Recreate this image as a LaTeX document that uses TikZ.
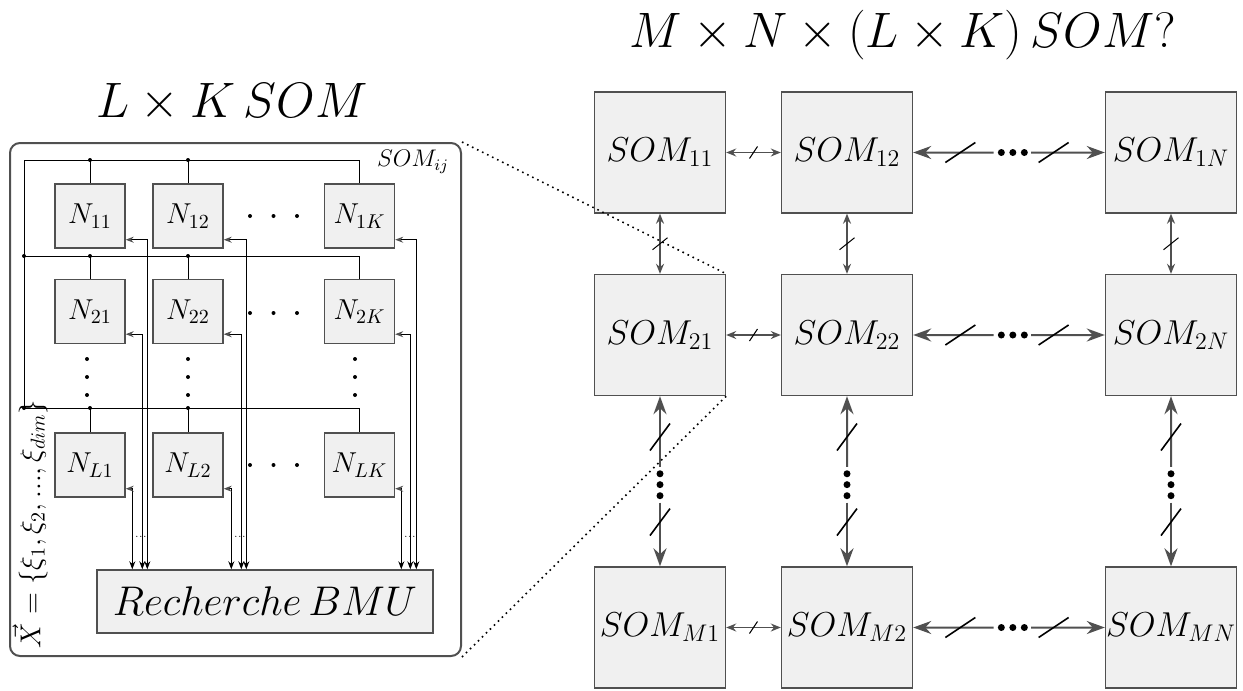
\documentclass[tikz,border=0pt]{standalone}
\usepackage{amsmath,amssymb}
\usepackage{tikz}
\usetikzlibrary{arrows.meta,positioning,calc}
\definecolor{cellfill}{HTML}{F0F0F0}
\definecolor{linegray}{HTML}{505050}

\begin{document}
\begin{tikzpicture}[>=latex,x=0.5pt,y=-0.5pt,
    neuron/.style={draw=linegray, fill=cellfill, line width=0.7pt, minimum width=35pt, minimum height=32pt, inner sep=0pt, font=\Large},
    somcell/.style={draw=linegray, fill=cellfill, line width=0.7pt, minimum width=65.5pt, minimum height=60.5pt, inner sep=0pt, font=\LARGE},
    wire/.style={line width=0.5pt},
    feed/.style={line width=0.5pt, {Stealth[length=4pt,width=3pt,color=linegray]}-{Stealth[length=4pt,width=3pt]}},
    thinlink/.style={linegray, line width=0.7pt, {Stealth[length=5pt,width=4pt]}-{Stealth[length=5pt,width=4pt]}},
    thickleft/.style={linegray, line width=1pt, {Stealth[length=9pt,width=6.5pt]}-},
    thickright/.style={linegray, line width=1pt, -{Stealth[length=9pt,width=6.5pt]}},
    slashmark/.style={black, line width=0.5pt},
    bigslash/.style={black, line width=0.8pt},
    bigtitle/.style={font=\fontsize{26.5}{32}\selectfont}]

    \useasboundingbox (0,0) rectangle (1243,691);

    \node[bigtitle] (lktitle) at (232,103) {$L\times K\,SOM$};
    \node[bigtitle] (mntitle) at (903,35) {$M\times N\times(L\times K)\,SOM?$};

    \node[draw=linegray, line width=1pt, rounded corners=5pt, minimum width=225.5pt, minimum height=256.5pt] (somij) at (235.5,399.5) {};
    \node[font=\large] (somijlabel) at (413,162) {$SOM_{ij}$};

    \node[neuron] (N11) at (90,216) {$N_{11}$};
    \node[neuron] (N12) at (188,216) {$N_{12}$};
    \node[neuron] (N1K) at (359.5,216) {$N_{1K}$};
    \node[neuron] (N21) at (90,311.5) {$N_{21}$};
    \node[neuron] (N22) at (188,311.5) {$N_{22}$};
    \node[neuron] (N2K) at (359.5,311.5) {$N_{2K}$};
    \node[neuron] (NL1) at (90,465) {$N_{L1}$};
    \node[neuron] (NL2) at (188,465) {$N_{L2}$};
    \node[neuron] (NLK) at (359.5,465) {$N_{LK}$};

    \node[draw=linegray, fill=cellfill, line width=0.7pt, minimum width=168pt, minimum height=31.5pt, font=\fontsize{21.5}{26}\selectfont] (bmu) at (265,601.5) {$Recherche\,BMU$};

    \node[rotate=90, font=\Large] (xin) at (30,524) {$\vec{X}=\{\xi_1,\xi_2,...,\xi_{dim}\}$};

    \coordinate (bus1) at (24,160);
    \coordinate (bus2) at (24,256);
    \coordinate (busL) at (24,408);
    \draw[wire] (bus1) -- (busL);
    \foreach \row in {1,2,L} {
        \draw[wire] (bus\row) -- (bus\row -| N\row K.north) -- (N\row K.north);
        \draw[wire] (bus\row -| N\row1.north) -- (N\row1.north);
        \draw[wire] (bus\row -| N\row2.north) -- (N\row2.north);
        \fill (bus\row -| N\row1.north) circle (2);
        \fill (bus\row -| N\row2.north) circle (2);
    }
    \fill (bus2) circle (2);
    \fill (busL) circle (2);

    \foreach \col/\a/\b/\d in {1/25.5/23/18, 2/75/72.5/67.5, K/160/157/152.5} {
        \draw[feed] ([yshift=4.5pt]N1\col.south east) -| ([xshift=\a pt]bmu.north west);
        \draw[feed] ([yshift=5pt]N2\col.south east) -| ([xshift=\b pt]bmu.north west);
        \draw[feed] ([yshift=4.5pt]NL\col.south east) -| node[pos=0.8, right, font=\tiny, inner sep=1pt]{...} ([xshift=\d pt]bmu.north west);
    }

    \foreach \x in {250,273.5,297} \foreach \y in {216,313,465} \fill (\x,\y) circle (2);
    \foreach \x in {87,188,355} \foreach \y in {359,377,395} \fill (\x,\y) circle (2);

    \foreach \c/\x in {1/660, 2/847, N/1171} \foreach \r/\y in {1/152.5, 2/335, M/627.5}
        \node[somcell] (SOM\r\c) at (\x,\y) {$SOM_{\r\c}$};

    \foreach \r in {1,2,M} {
        \draw[thinlink] (SOM\r1.east) -- (SOM\r2.west);
        \draw[slashmark] ($(SOM\r1.east)!0.5!(SOM\r2.west)$) +(-4,6) -- +(4,-6);
        \draw[thickleft] (SOM\r2.east) -- ($(SOM\r2.east)!0.42!(SOM\r N.west)$);
        \draw[thickright] ($(SOM\r2.east)!0.615!(SOM\r N.west)$) -- (SOM\r N.west);
        \foreach \f in {0.46,0.52,0.58} \fill ($(SOM\r2.east)!\f!(SOM\r N.west)$) circle (3.5);
        \draw[bigslash] ($(SOM\r2.east)!0.246!(SOM\r N.west)$) +(-15,10) -- +(15,-10);
        \draw[bigslash] ($(SOM\r2.east)!0.733!(SOM\r N.west)$) +(-15,10) -- +(15,-10);
    }

    \foreach \c in {1,2,N} {
        \draw[thinlink] (SOM1\c.south) -- (SOM2\c.north);
        \draw[slashmark] ($(SOM1\c.south)!0.5!(SOM2\c.north)$) +(-7.5,6) -- +(7.5,-6);
        \draw[thickleft] (SOM2\c.south) -- ($(SOM2\c.south)!0.415!(SOMM\c.north)$);
        \draw[thickright] ($(SOM2\c.south)!0.626!(SOMM\c.north)$) -- (SOMM\c.north);
        \foreach \f in {0.456,0.52,0.585} \fill ($(SOM2\c.south)!\f!(SOMM\c.north)$) circle (3.5);
        \draw[bigslash] ($(SOM2\c.south)!0.24!(SOMM\c.north)$) +(-10,13.5) -- +(10,-13.5);
        \draw[bigslash] ($(SOM2\c.south)!0.74!(SOMM\c.north)$) +(-10,13.5) -- +(10,-13.5);
    }

    \draw[dotted, line width=0.8pt] (somij.north east) -- (SOM21.north east);
    \draw[dotted, line width=0.8pt] (somij.south east) -- (SOM21.south east);
\end{tikzpicture}
\end{document}
